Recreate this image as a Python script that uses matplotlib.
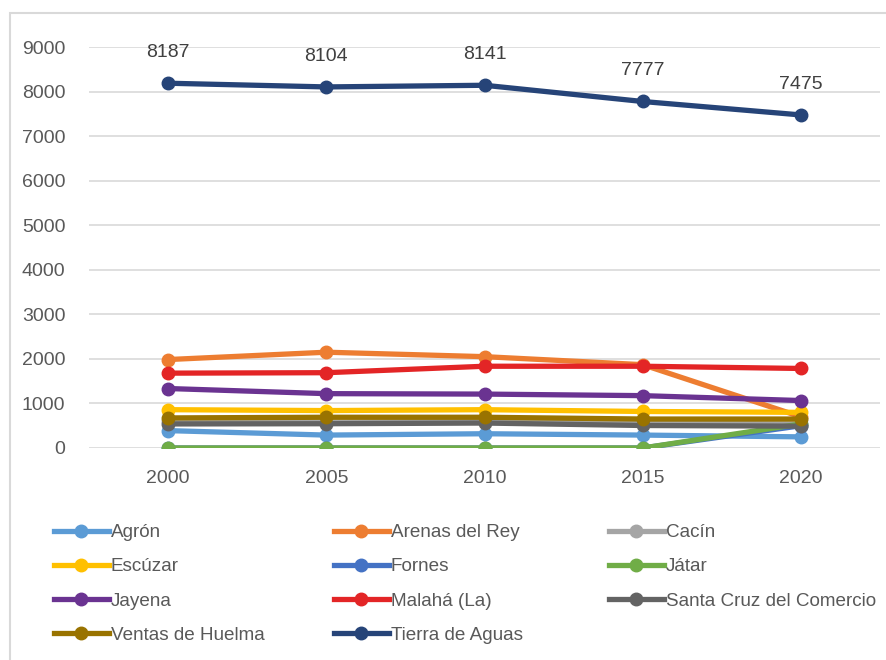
import matplotlib
matplotlib.use("Agg")
import matplotlib.pyplot as plt
from matplotlib.lines import Line2D
from matplotlib.patches import Rectangle

plt.rcParams['font.family'] = ['Liberation Sans', 'DejaVu Sans']

years = ["2000", "2005", "2010", "2015", "2020"]

agron = [390, 290, 320, 290, 250]
arenas_del_rey = [1985, 2150, 2050, 1870, 700]
cacin = [600, 580, 600, 560, 540]
escuzar = [860, 840, 860, 820, 800]
fornes = [0, 0, 0, 0, 500]
jatar = [0, 0, 0, 0, 540]
jayena = [1335, 1220, 1210, 1175, 1065]
malaha = [1680, 1690, 1835, 1835, 1785]
santa_cruz = [540, 545, 560, 505, 490]
ventas_huelma = [675, 690, 690, 650, 650]
tierra_aguas = [8187, 8104, 8141, 7777, 7475]

names = ["Agrón", "Arenas del Rey", "Cacín", "Escúzar", "Fornes", "Játar",
         "Jayena", "Malahá (La)", "Santa Cruz del Comercio",
         "Ventas de Huelma", "Tierra de Aguas"]
series = [agron, arenas_del_rey, cacin, escuzar, fornes, jatar,
          jayena, malaha, santa_cruz, ventas_huelma, tierra_aguas]
colors = ["#5B9BD5", "#ED7D31", "#A5A5A5", "#FFC000", "#4472C4", "#70AD47",
          "#6A3391", "#E32526", "#636363", "#997300", "#264478"]

W, H = 886, 660
fig = plt.figure(figsize=(W / 100, H / 100), dpi=100)

# light frame round the chart area
fig.patches.append(Rectangle((10 / W, -0.1), 1.2, 1 - 13 / H + 0.1,
                             transform=fig.transFigure, fill=False,
                             edgecolor="#d9d9d9", lw=1.5))

ax = fig.add_axes([89 / W, 1 - 448 / H, (880 - 89) / W, (448 - 47) / H])
x = list(range(len(years)))

for name, vals, c in zip(names, series, colors):
    ax.plot(x, vals, color=c, lw=3.8, marker="o", ms=9, label=name,
            solid_capstyle="round")

for xi, v in zip(x, tierra_aguas):
    ax.annotate(str(v), (xi, v), xytext=(0, 22), textcoords="offset points",
                ha="center", va="center", fontsize=14, color="#404040")

ax.set_xlim(-0.5, len(years) - 0.5)
ax.set_ylim(0, 9000)
ax.set_yticks(range(0, 9001, 1000))
ax.set_xticks(x)
ax.set_xticklabels(years)
ax.tick_params(axis="both", length=0, labelsize=14, labelcolor="#595959")
ax.tick_params(axis="x", pad=16)
ax.tick_params(axis="y", pad=17)
ax.grid(axis="y", color="#d9d9d9", lw=1.2)
ax.set_axisbelow(True)
for s in ax.spines.values():
    s.set_visible(False)
ax.patch.set_visible(False)

# legend laid out in three fixed columns
col_x = [54, 334, 609]
for ci, cx in enumerate(col_x):
    idx = list(range(ci, len(names), 3))
    hs = [Line2D([], [], color=colors[i], lw=3.8, marker="o", ms=9) for i in idx]
    fig.legend(hs, [names[i] for i in idx], loc="upper left",
               bbox_to_anchor=(cx / W, 1 - 524 / H), frameon=False,
               fontsize=13.6, handlelength=2.9, handletextpad=0.1,
               labelspacing=0.9, borderpad=0, borderaxespad=0,
               labelcolor="#595959")

fig.savefig("out.png", dpi=100)
